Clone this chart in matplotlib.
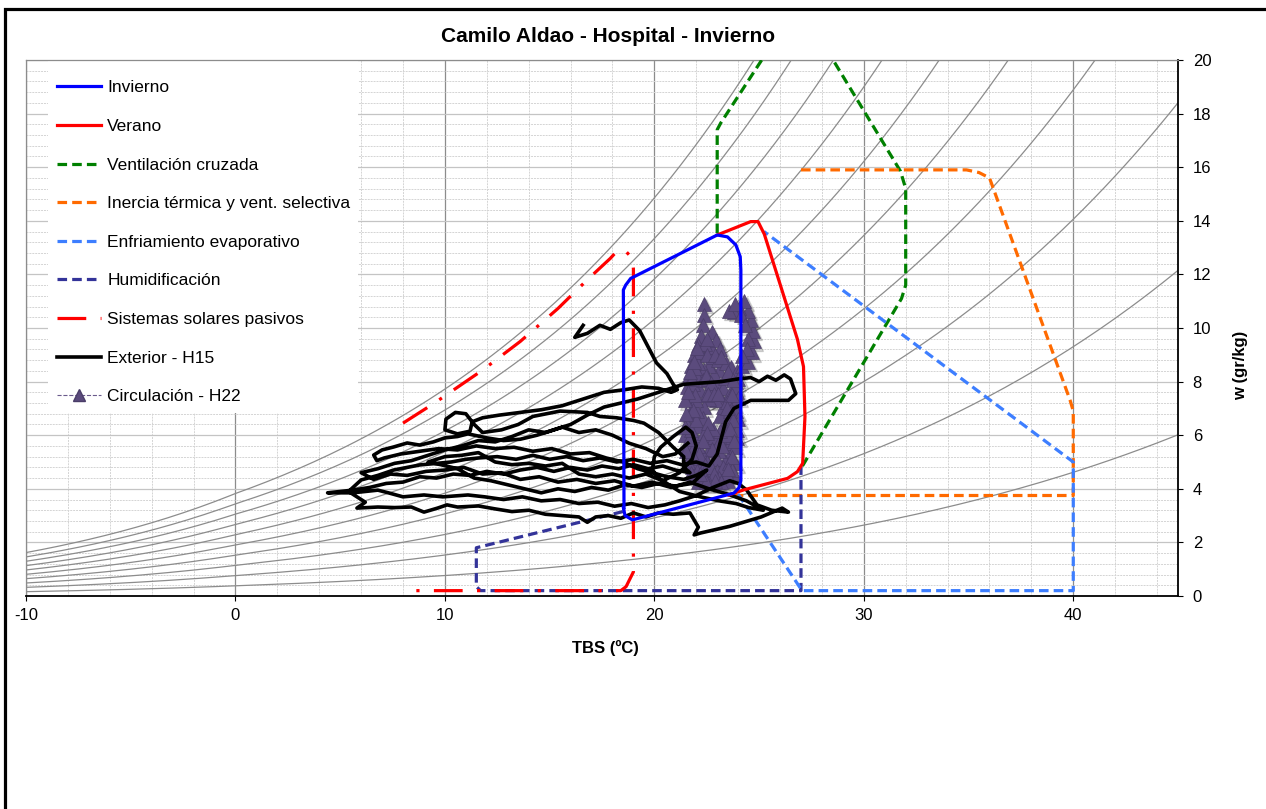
import numpy as np
import matplotlib
matplotlib.use('Agg')
import matplotlib.pyplot as plt
from matplotlib.lines import Line2D
from matplotlib.patches import Rectangle
import matplotlib.transforms as mtransforms

plt.rcParams['font.family'] = ['Liberation Sans', 'DejaVu Sans']
plt.rcParams['axes.unicode_minus'] = False

title = 'Camilo Aldao - Hospital - Invierno'
x_label = 'TBS (ºC)'
y_label = 'w (gr/kg)'

# humedad relativa de las curvas de fondo (%), presion local (kPa)
rh_levels = [10, 20, 30, 40, 50, 60, 70, 80, 90, 100]
p_atm = 100.0

# zonas de confort y estrategias (TBS ºC, w gr/kg)
invierno_t = [18.55, 18.52, 18.63, 18.87, 23.0, 23.49, 23.89, 24.1, 24.13, 24.13, 24.03, 23.8, 18.95, 18.6, 18.52]
invierno_w = [3.3, 11.42, 11.6, 11.85, 13.47, 13.4, 13.1, 12.66, 12.16, 4.3, 4.03, 3.84, 2.84, 3.0, 3.3]

verano_t = [23.0, 24.6, 24.95, 25.25, 26.83, 27.12, 27.19, 27.08, 26.83, 26.36, 24.27, 23.55]
verano_w = [13.47, 13.97, 13.97, 13.5, 9.58, 8.56, 6.69, 4.95, 4.64, 4.39, 3.96, 3.77]

vent_t = [27.07, 31.8, 32.0, 32.0, 31.75, 26.89, 23.17, 23.0, 23.0]
vent_w = [4.85, 11.1, 11.6, 15.2, 15.85, 22.12, 17.65, 17.4, 13.5]

inercia_t = [27.0, 34.9, 35.5, 36.0, 39.85, 40.0, 40.0, 23.6]
inercia_w = [15.9, 15.9, 15.8, 15.6, 7.3, 6.9, 3.75, 3.75]

evap_t = [24.0, 27.05, 40.0, 40.0, 25.23]
evap_w = [3.8, 0.2, 0.2, 5.0, 13.6]

humid_t = [18.5, 11.5, 11.5, 11.7, 27.0, 27.0]
humid_w = [3.15, 1.8, 0.35, 0.2, 0.2, 4.85]

solar_t = [8.0, 9.5, 11.8, 13.6, 15.4, 16.8, 17.9, 18.25, 18.65, 18.95, 19.0, 19.0, 18.65, 18.4, 8.4]
solar_w = [6.45, 7.2, 8.43, 9.5, 10.73, 11.8, 12.6, 12.9, 12.85, 12.6, 12.2, 0.9, 0.35, 0.2, 0.2]

# Exterior - H15
exterior = [
    (16.6, 10.1), (16.2, 9.65), (16.8, 9.8), (17.4, 10.1), (17.9, 9.95), (18.4, 10.2), (18.8, 10.3),
    (19.3, 9.9), (19.7, 9.3), (20.1, 8.7), (20.6, 8.3), (20.9, 7.9), (21.1, 7.7), (20.8, 7.6),
    (20.2, 7.75), (19.4, 7.8), (18.6, 7.7), (17.6, 7.6), (16.6, 7.35), (15.6, 7.1), (14.6, 6.95),
    (13.6, 6.85), (12.6, 6.75), (11.8, 6.65), (11.3, 6.5),
    (11.2, 6.15), (10.6, 6.05), (10.0, 6.2), (10.05, 6.6), (10.5, 6.85), (11.0, 6.8), (11.4, 6.4), (11.8, 6.1),
    (12.7, 6.2), (13.5, 6.4), (14.2, 6.7), (15.5, 6.9), (16.8, 6.85), (17.4, 6.7), (18.2, 6.65), (19.0, 6.55),
    (19.5, 6.45), (20.2, 6.1), (20.9, 5.55), (21.4, 5.2), (21.4, 4.8), (21.7, 4.6),
    (21.0, 4.7), (20.4, 4.85), (19.7, 4.75), (19.0, 4.9), (18.3, 4.75), (17.5, 4.85), (16.8, 4.7), (16.0, 4.8),
    (15.2, 4.65), (14.4, 4.8), (13.6, 4.7), (12.8, 4.55), (12.0, 4.65), (11.2, 4.5), (10.4, 4.55), (9.6, 4.4),
    (8.8, 4.45), (8.0, 4.25), (7.2, 4.2), (6.4, 4.05), (5.6, 3.95), (4.4, 3.85),
    (5.6, 3.85), (6.8, 3.95), (7.3, 3.85), (8.0, 3.7), (9.0, 3.77), (9.9, 3.7), (11.1, 3.77), (11.9, 3.7),
    (12.8, 3.6), (13.7, 3.7), (14.6, 3.55), (15.5, 3.6), (16.4, 3.45), (17.3, 3.5), (18.1, 3.35), (18.9, 3.45),
    (19.7, 3.3), (20.5, 3.4), (21.2, 3.55), (22.0, 3.75), (22.8, 4.05), (23.6, 4.3), (24.0, 4.2), (24.4, 3.96),
    (24.9, 3.4),
    (25.6, 3.2), (26.4, 3.13), (26.1, 3.28), (25.1, 2.95), (23.6, 2.6), (22.2, 2.35), (21.9, 2.28), (22.1, 2.57),
    (21.7, 3.1), (20.9, 3.05), (20.2, 3.1), (19.6, 2.95), (19.0, 3.1), (18.4, 2.9), (17.8, 3.0), (17.2, 2.95),
    (16.8, 2.75), (16.4, 2.95), (15.6, 3.0), (14.8, 3.05), (14.0, 3.2), (13.2, 3.15), (12.4, 3.25), (11.6, 3.36),
    (10.6, 3.32), (10.1, 3.4), (9.65, 3.28), (9.0, 3.13), (8.4, 3.32), (7.6, 3.3), (6.8, 3.32), (5.8, 3.28),
    (6.2, 3.5), (5.4, 3.9), (6.0, 4.33), (6.8, 4.5), (7.55, 4.7), (8.2, 4.8), (8.8, 4.89), (9.6, 4.95),
    (10.3, 5.0), (11.0, 5.1), (11.6, 5.15), (12.5, 5.2), (13.4, 5.1), (14.2, 5.25), (15.0, 5.1), (15.8, 5.2),
    (16.6, 5.05), (17.4, 5.15), (18.2, 5.0), (19.0, 5.1), (19.8, 4.95), (20.6, 5.05), (21.3, 4.9), (22.0, 5.0),
    (22.6, 4.85),
    (23.0, 5.3), (23.2, 5.9), (23.4, 6.5), (23.8, 7.0), (24.6, 7.3), (25.5, 7.3), (26.4, 7.3), (26.75, 7.55),
    (26.5, 8.1), (26.2, 8.25), (25.8, 8.05), (25.4, 8.2), (25.0, 8.0), (24.6, 8.15), (24.0, 8.1), (23.2, 8.0),
    (22.3, 7.95), (21.4, 7.9), (20.8, 7.75),
    (20.0, 7.55), (19.2, 7.35), (18.4, 7.2), (17.6, 7.05), (16.8, 6.75), (16.0, 6.4), (15.2, 6.2), (14.4, 6.0),
    (13.6, 5.85), (12.8, 5.8), (12.0, 5.9), (11.1, 6.05), (10.6, 5.95), (10.0, 5.9), (9.45, 5.75), (8.8, 5.63),
    (8.2, 5.71), (7.55, 5.56), (7.0, 5.45), (6.6, 5.26), (6.75, 5.05), (7.1, 5.15),
    (7.9, 5.3), (8.8, 5.4), (9.7, 5.5), (10.6, 5.45), (11.5, 5.6), (12.4, 5.5), (13.3, 5.55), (14.2, 5.4),
    (15.1, 5.5), (16.0, 5.3), (16.9, 5.35), (17.7, 5.15), (18.5, 5.0), (19.2, 4.75), (19.9, 4.6), (20.6, 4.45),
    (21.4, 4.35), (22.0, 4.5), (22.5, 4.7),
    (21.8, 4.2), (21.0, 4.1), (20.2, 4.2), (19.4, 4.05), (18.6, 4.15), (17.8, 3.95), (17.0, 4.05), (16.2, 3.9),
    (15.4, 4.0), (14.6, 3.85), (13.8, 4.0), (13.0, 4.15), (12.2, 4.3), (11.4, 4.4), (10.6, 4.75), (9.8, 4.9),
    (9.2, 5.0),
    (10.0, 5.2), (10.8, 5.25), (11.6, 5.35), (12.4, 5.0), (13.2, 4.9), (14.0, 4.95), (14.8, 4.85), (15.6, 4.95),
    (16.4, 4.55), (17.2, 4.45), (18.0, 4.55), (18.8, 4.4), (19.6, 4.55), (20.4, 4.3), (21.2, 4.6), (21.8, 5.1),
    (22.0, 5.6), (21.8, 6.1), (21.5, 6.3), (20.9, 5.95), (20.3, 5.55), (20.0, 5.2), (19.9, 4.7), (20.3, 4.35),
    (21.2, 3.9), (22.2, 3.7), (23.1, 3.55), (23.9, 3.45), (24.5, 3.3), (25.2, 3.2),
    (24.4, 3.55), (23.5, 3.8), (22.6, 4.0), (21.7, 4.25), (20.8, 4.05), (19.9, 4.25), (19.0, 4.1), (18.1, 4.3),
    (17.2, 4.2), (16.3, 4.35), (15.4, 4.25), (14.5, 4.45), (13.6, 4.35), (12.7, 4.6), (11.8, 4.55), (10.9, 4.8),
    (10.0, 4.7), (9.1, 4.65), (8.2, 4.5), (7.4, 4.55), (6.6, 4.35), (6.0, 4.6), (6.8, 4.75), (7.6, 4.95),
    (8.4, 5.05), (9.2, 5.25), (10.0, 5.45), (10.8, 5.6), (11.6, 5.8), (12.4, 5.75), (13.2, 5.95), (14.0, 6.2),
    (14.8, 6.1), (15.6, 6.3), (16.4, 6.1), (17.2, 6.2), (18.0, 6.0), (18.8, 5.7), (19.6, 5.5), (20.4, 5.2),
    (21.0, 5.3), (21.6, 5.7),
]

# Circulación - H22
circulacion = [
    (22.35, 10.9), (22.35, 10.5), (22.3, 10.1), (22.25, 9.7), (22.1, 9.35), (21.9, 9.0), (21.75, 8.6),
    (21.65, 8.2), (21.55, 7.8), (21.7, 7.45), (21.85, 7.1), (21.7, 6.75), (21.55, 6.4), (21.45, 6.0),
    (21.55, 5.6), (21.7, 5.2), (21.8, 4.8), (21.95, 4.45), (22.1, 4.25), (22.35, 4.4), (22.55, 4.7),
    (22.75, 4.4), (23.0, 4.25), (23.25, 4.5), (23.5, 4.3), (23.75, 4.55), (23.85, 4.95), (23.6, 5.3),
    (23.35, 5.05), (23.1, 5.4), (22.85, 5.1), (22.6, 5.45), (22.35, 5.2), (22.1, 5.6), (21.9, 6.0),
    (22.1, 6.35), (22.35, 6.1), (22.6, 5.8), (22.85, 5.95), (23.1, 5.75), (23.35, 5.95), (23.6, 5.7),
    (23.85, 5.55), (23.95, 5.9), (23.8, 6.3), (23.55, 6.55), (23.3, 6.35), (23.15, 6.7), (23.3, 7.05),
    (23.2, 7.4), (22.95, 7.3), (22.6, 7.35), (22.35, 7.05), (22.3, 6.65), (22.05, 6.9), (22.0, 7.3),
    (22.2, 7.7), (22.45, 7.5), (22.75, 7.7), (23.0, 7.95), (23.3, 7.75), (23.55, 7.5), (23.8, 7.2),
    (23.95, 7.6), (23.9, 8.0), (23.6, 8.3), (23.35, 8.15), (23.1, 8.45), (22.85, 8.3), (22.6, 8.6),
    (22.35, 8.45), (22.1, 8.7), (22.0, 8.25), (21.85, 7.9), (22.3, 8.05), (22.55, 8.1), (22.75, 8.9),
    (22.7, 9.3), (22.75, 9.85), (22.95, 9.55), (23.15, 9.2), (23.05, 8.8), (23.4, 8.7), (23.65, 8.55),
    (23.95, 8.4), (24.2, 8.6), (24.45, 8.75), (24.65, 9.1), (24.75, 9.5), (24.7, 9.9), (24.6, 10.3),
    (24.45, 10.65), (24.3, 11.0), (24.05, 10.75), (23.8, 10.6), (23.55, 10.65), (23.85, 10.9), (24.15, 10.5),
    (24.35, 10.1), (24.45, 9.6), (24.4, 9.2), (24.2, 8.95), (24.0, 8.1), (23.85, 7.8), (24.0, 7.4),
    (23.9, 6.9), (24.0, 6.6), (23.95, 6.2), (23.7, 5.95), (23.5, 6.2), (23.25, 5.6), (23.0, 5.1),
    (22.75, 5.5), (22.5, 5.0), (22.25, 4.75), (22.0, 5.0), (21.8, 5.4), (21.65, 5.85), (21.75, 6.2),
    (22.0, 6.55), (21.85, 6.95), (21.95, 7.5), (21.8, 8.1), (21.95, 8.5), (22.2, 9.1), (22.4, 9.4),
    (22.5, 9.0), (22.45, 8.2), (22.7, 7.95), (22.55, 7.55), (22.85, 7.55), (23.05, 7.55), (23.45, 7.25),
    (23.6, 6.9), (23.75, 6.55), (23.45, 6.0), (23.15, 6.15), (22.8, 6.25), (22.55, 6.45), (22.5, 6.1),
    (22.3, 5.8), (22.15, 5.3), (22.4, 4.9), (22.7, 4.8), (23.0, 4.65), (23.3, 4.8), (23.55, 4.95),
    (23.7, 4.7), (23.45, 4.55), (23.1, 4.4), (22.85, 4.55), (22.6, 4.2), (22.3, 4.55), (22.05, 4.65),
    (21.9, 5.15), (21.6, 5.0), (21.5, 5.4), (21.45, 6.3), (21.5, 6.8), (21.45, 7.3), (21.6, 7.6),
    (21.7, 8.35), (21.9, 8.75), (22.05, 9.25), (22.5, 9.6), (22.9, 9.0), (23.2, 8.9), (23.5, 8.35),
    (23.75, 8.05), (23.7, 7.5), (23.45, 7.0), (23.6, 6.25), (23.8, 5.8), (23.7, 5.2), (23.5, 4.75),
    (23.2, 4.25), (22.9, 4.3), (22.45, 4.25), (22.2, 4.55), (21.75, 4.6),
]

ext_t, ext_w = zip(*exterior)
circ_t, circ_w = zip(*circulacion)

fig = plt.figure(figsize=(12.66, 8.09), dpi=100)
ax = fig.add_axes([26/1266, 1-596/809, 1152/1266, 536/809])

# curvas de humedad relativa (saturacion sobre hielo bajo 0 ºC)
t_curve = np.arange(-10, 45.01, 0.25)
es = np.where(t_curve < 0,
              0.6112*np.exp(22.46*t_curve/(272.62+t_curve)),
              0.6112*np.exp(17.62*t_curve/(243.12+t_curve)))
for rh in rh_levels:
    pv = rh/100*es
    ax.plot(t_curve, 622*pv/(p_atm-pv), color='#8c8c8c', lw=0.9, zorder=2)

dash = (3.0, 1.6)
dashdot = (0, (9, 4.5, 1, 4.5))
ax.plot(vent_t, vent_w, color='#008000', lw=2.3, ls=(0, dash), zorder=5)
ax.plot(inercia_t, inercia_w, color='#ff6a00', lw=2.3, ls=(0, dash), zorder=5)
ax.plot(humid_t, humid_w, color='#333399', lw=2.3, ls=(0, dash), zorder=5)
ax.plot(evap_t, evap_w, color='#3d7eff', lw=2.3, ls=(0, dash), zorder=5)
ax.plot(solar_t, solar_w, color='#ff0000', lw=2.3, ls=dashdot, zorder=5)

# H22 con sombra
shadow = mtransforms.offset_copy(ax.transData, fig=fig, x=2.5, y=-2.5, units='dots')
ax.plot(circ_t, circ_w, ls='none', marker='^', ms=10.5, color='#000000', alpha=0.15,
        transform=shadow, zorder=3)
ax.plot(circ_t, circ_w, color='#6a5a8c', lw=0.8, ls='--', marker='^', ms=9.5,
        mfc='#5b4b7d', mec='#4a3d68', mew=0.5, zorder=3.2)

ax.plot(ext_t, ext_w, color='black', lw=2.6, zorder=6, solid_joinstyle='round')
ax.plot(verano_t, verano_w, color='#ff0000', lw=2.3, zorder=7, solid_joinstyle='round')
ax.plot(invierno_t, invierno_w, color='#0000ff', lw=2.3, zorder=7, solid_joinstyle='round')

ax.set_xlim(-10, 45)
ax.set_ylim(0, 20)
ax.set_xticks(range(-10, 41, 10))
ax.set_xticks(range(-10, 46, 2), minor=True)
ax.set_yticks(range(0, 21, 2))
ax.set_yticks(np.arange(0, 20.01, 0.4), minor=True)
ax.yaxis.tick_right()
ax.tick_params(axis='both', which='major', labelsize=12, length=3.6, width=0.8, direction='out')
ax.tick_params(axis='y', which='major', pad=7)
ax.tick_params(axis='x', which='major', pad=5)
ax.tick_params(which='minor', length=0)

ax.set_axisbelow(True)
ax.grid(which='major', axis='x', color='#8c8c8c', lw=0.9)
ax.grid(which='minor', axis='x', color='#d4d4d4', lw=0.7, ls=(0, (2, 1)))
ax.grid(which='major', axis='y', color='#c4c4c4', lw=0.9)
ax.grid(which='minor', axis='y', color='#d4d4d4', lw=0.7, ls=(0, (2, 1)))

for side in ['top', 'left']:
    ax.spines[side].set_color('#8c8c8c')
    ax.spines[side].set_linewidth(0.9)
for side in ['bottom', 'right']:
    ax.spines[side].set_color('black')
    ax.spines[side].set_linewidth(1.3)

# fondo blanco de la leyenda
ax.add_patch(Rectangle((22/1152, (596-413)/536), 310/1152, 1-(596-413)/536,
                       transform=ax.transAxes, facecolor='white', edgecolor='none', zorder=1))

handles = [
    Line2D([], [], color='#0000ff', lw=2.3),
    Line2D([], [], color='#ff0000', lw=2.3),
    Line2D([], [], color='#008000', lw=2.3, ls=(0, dash)),
    Line2D([], [], color='#ff6a00', lw=2.3, ls=(0, dash)),
    Line2D([], [], color='#3d7eff', lw=2.3, ls=(0, dash)),
    Line2D([], [], color='#333399', lw=2.3, ls=(0, dash)),
    Line2D([], [], color='#ff0000', lw=2.3, ls=dashdot),
    Line2D([], [], color='black', lw=2.6),
    Line2D([], [], color='#6a5a8c', lw=0.8, ls='--', marker='^', ms=8, mfc='#5b4b7d', mec='#4a3d68'),
]
labels = ['Invierno', 'Verano', 'Ventilación cruzada', 'Inercia térmica y vent. selectiva',
          'Enfriamiento evaporativo', 'Humidificación', 'Sistemas solares pasivos',
          'Exterior - H15', 'Circulación - H22']
leg = ax.legend(handles, labels, loc='upper left', bbox_to_anchor=(24/1152, 0.975), frameon=False,
                fontsize=12.5, handlelength=2.55, handletextpad=0.35, labelspacing=1.35,
                borderaxespad=0, borderpad=0.4)
leg.set_zorder(8)

fig.text(608/1266, 1-37/809, title, ha='center', va='center', fontsize=15, fontweight='bold')
fig.text(605/1266, 1-648/809, x_label, ha='center', va='center', fontsize=12, fontweight='bold')
fig.text(1241/1266, 1-365/809, y_label, ha='center', va='center', fontsize=12, fontweight='bold',
         rotation=90)

fig.add_artist(Rectangle((5/1266, -1), 2, 1+(1-8.5/809), transform=fig.transFigure,
                         fill=False, edgecolor='black', lw=2.3))

fig.savefig('out.png', dpi=100)
